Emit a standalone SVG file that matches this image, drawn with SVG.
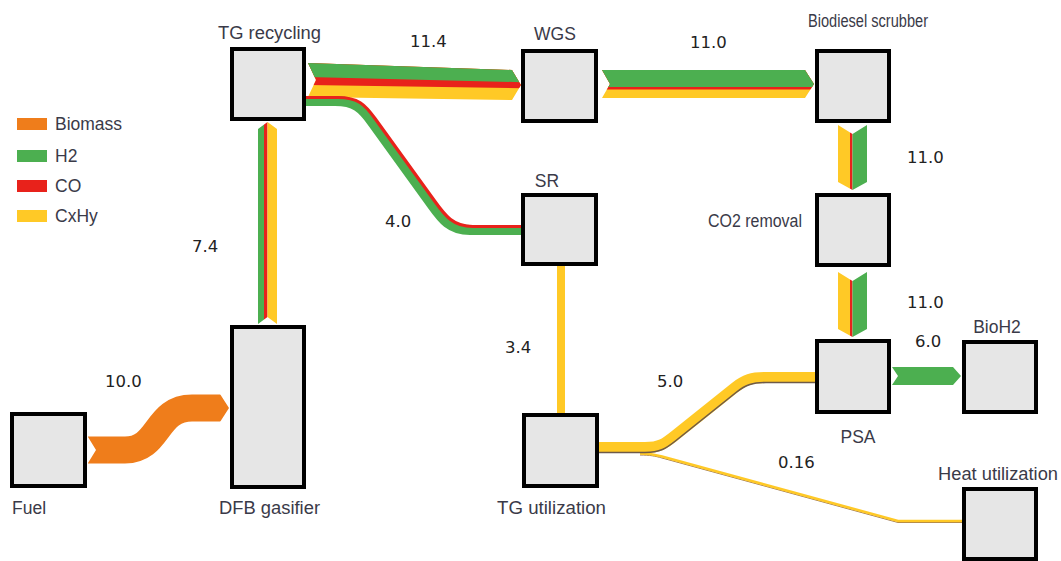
<svg xmlns="http://www.w3.org/2000/svg" width="1061" height="561" viewBox="0 0 1061 561">
<style>
.box{fill:#E6E6E6;stroke:#000;stroke-width:4}
.lbl{font-family:"Liberation Sans",Arial,sans-serif;font-size:17.5px;fill:#3A3A48}
.num{font-family:"DejaVu Sans",Verdana,sans-serif;font-size:16.5px;fill:#222}
.g{fill:#4CAF50}.r{fill:#E8221B}.y{fill:#FFC926}.o{fill:#EF7D1B}
</style>
<defs>
<clipPath id="cFuel"><polygon points="88,370 220,370 220,394 229,408 220,422 220,480 88,480 88,463 96,450 88,437"/></clipPath>
<clipPath id="cRec"><polygon points="258,129 267.5,122 277,129 277,324 267.5,317 258,324"/></clipPath>
<clipPath id="cWgs"><polygon points="308,63 512,70 521,85 512,100 308,97 316,80"/></clipPath>
<clipPath id="cBio"><polygon points="602,70 805,70 814,84 805,98 602,98 610,84"/></clipPath>
<clipPath id="cCo2"><polygon points="838,125 852.5,134 867,125 867,182 852.5,190 838,182"/></clipPath>
<clipPath id="cPsa"><polygon points="838,272 852.5,281 867,272 867,329 852.5,337 838,329"/></clipPath>
</defs>
<rect width="1061" height="561" fill="#fff"/>

<g id="legend">
<rect x="17" y="118" width="30" height="12" class="o"/>
<text x="55" y="130" class="lbl">Biomass</text>
<rect x="17" y="150" width="30" height="12" class="g"/>
<text x="55" y="162" class="lbl">H2</text>
<rect x="17" y="180" width="30" height="12" class="r"/>
<text x="55" y="192" class="lbl">CO</text>
<rect x="17" y="210" width="30" height="12" class="y"/>
<text x="55" y="222" class="lbl">CxHy</text>
</g>

<g id="connectors">
<!-- Fuel -> DFB gasifier -->
<g clip-path="url(#cFuel)">
<path d="M80,450 L125,450 C160,450 155,408 192,408 L232,408" fill="none" stroke="#EF7D1B" stroke-width="27"/>
</g>
<text x="105" y="387" class="num">10.0</text>

<!-- DFB gasifier -> TG recycling -->
<g clip-path="url(#cRec)">
<rect x="258" y="118" width="6" height="212" class="g"/>
<rect x="264" y="118" width="3.5" height="212" class="r"/>
<rect x="267.5" y="118" width="10" height="212" class="y"/>
</g>
<text x="192" y="252" class="num">7.4</text>

<!-- TG recycling -> WGS -->
<g clip-path="url(#cWgs)">
<rect x="300" y="50" width="230" height="60" class="y"/>
<polygon points="300,50 530,50 530,88.3 300,84.9" class="r"/>
<polygon points="300,50 530,50 530,82.4 300,76.8" class="g"/>
</g>
<text x="410" y="47" class="num">11.4</text>

<!-- TG recycling -> SR -->
<path d="M306,101 L335,101 C355,101 362,108 372,122 L432,205 C442,219 450,230 470,230 L522,230" fill="none" stroke="#4CAF50" stroke-width="10"/>
<path d="M306,97.5 L338,97.5 C358,97.5 365,104.5 375,118.5 L435,201.5 C445,215.5 453,226.5 473,226.5 L522,226.5" fill="none" stroke="#E8221B" stroke-width="3.2"/>
<text x="385" y="227" class="num">4.0</text>

<!-- WGS -> Biodiesel scrubber -->
<g clip-path="url(#cBio)">
<rect x="600" y="60" width="220" height="45" class="y"/>
<rect x="600" y="60" width="220" height="29.5" class="r"/>
<rect x="600" y="60" width="220" height="27" class="g"/>
</g>
<text x="690" y="48" class="num">11.0</text>

<!-- Biodiesel scrubber -> CO2 removal -->
<g clip-path="url(#cCo2)">
<rect x="838" y="120" width="12" height="75" class="y"/>
<rect x="850" y="120" width="2.5" height="75" class="r"/>
<rect x="852.5" y="120" width="14.5" height="75" class="g"/>
</g>
<text x="907" y="163" class="num">11.0</text>

<!-- CO2 removal -> PSA -->
<g clip-path="url(#cPsa)">
<rect x="838" y="268" width="12" height="75" class="y"/>
<rect x="850" y="268" width="2.5" height="75" class="r"/>
<rect x="852.5" y="268" width="14.5" height="75" class="g"/>
</g>
<text x="907" y="308" class="num">11.0</text>

<!-- PSA -> BioH2 -->
<polygon points="892,367 953,367 961,376 953,385 892,385 898,376" class="g"/>
<text x="915" y="347" class="num">6.0</text>

<!-- SR -> TG utilization -->
<rect x="557" y="266" width="8" height="148" class="y"/>
<text x="505" y="353" class="num">3.4</text>

<!-- TG utilization -> Heat utilization -->
<path d="M640,455 C650,455 655,456 662,458 L898,522.5 L964,522.5" fill="none" stroke="#A07850" stroke-width="1"/>
<path d="M640,453.5 C650,453.5 655,454.5 662,456.5 L898,521 L964,521" fill="none" stroke="#FFC926" stroke-width="2.6"/>
<text x="778" y="468" class="num">0.16</text>

<!-- TG utilization -> PSA -->
<path d="M599,447.5 L645,447.5 C660,447.5 665,443.5 675,435.5 L735,387.5 C745,379.5 752,377.5 765,377.5 L817,377.5" fill="none" stroke="#FFC926" stroke-width="11"/>
<path d="M599,452.5 L645,452.5 C660,452.5 666,448.5 676,440.5 L736,392.5 C746,384.5 753,382.5 766,382.5 L817,382.5" fill="none" stroke="#6E5A48" stroke-width="1.6"/>
<text x="657" y="387" class="num">5.0</text>
</g>

<g id="node-fuel">
<rect x="12" y="414" width="73" height="72" class="box"/>
<text x="12" y="514" class="lbl">Fuel</text>
</g>
<g id="node-dfb">
<rect x="232" y="327" width="72" height="160" class="box"/>
<text x="219" y="514" class="lbl" textLength="101" lengthAdjust="spacingAndGlyphs">DFB gasifier</text>
</g>
<g id="node-tgrec">
<rect x="232" y="49" width="72" height="70" class="box"/>
<text x="218" y="39" class="lbl" textLength="103" lengthAdjust="spacingAndGlyphs">TG recycling</text>
</g>
<g id="node-wgs">
<rect x="523" y="51" width="73" height="70" class="box"/>
<text x="555" y="40" class="lbl" text-anchor="middle">WGS</text>
</g>
<g id="node-scrubber">
<rect x="817" y="51" width="72" height="70" class="box"/>
<text x="808" y="27" class="lbl" textLength="120" lengthAdjust="spacingAndGlyphs">Biodiesel scrubber</text>
</g>
<g id="node-sr">
<rect x="523" y="195" width="73" height="69" class="box"/>
<text x="547" y="187" class="lbl" text-anchor="middle">SR</text>
</g>
<g id="node-co2">
<rect x="817" y="195" width="72" height="70" class="box"/>
<text x="708" y="227" class="lbl" textLength="94" lengthAdjust="spacingAndGlyphs">CO2 removal</text>
</g>
<g id="node-psa">
<rect x="817" y="341" width="72" height="71" class="box"/>
<text x="858" y="443" class="lbl" text-anchor="middle">PSA</text>
</g>
<g id="node-bioh2">
<rect x="964" y="342" width="72" height="70" class="box"/>
<text x="997" y="333" class="lbl" text-anchor="middle">BioH2</text>
</g>
<g id="node-tguti">
<rect x="524" y="415" width="73" height="71" class="box"/>
<text x="497" y="514" class="lbl" textLength="109" lengthAdjust="spacingAndGlyphs">TG utilization</text>
</g>
<g id="node-heat">
<rect x="964" y="489" width="72" height="70" class="box"/>
<text x="938" y="480" class="lbl" textLength="120" lengthAdjust="spacingAndGlyphs">Heat utilization</text>
</g>
</svg>
